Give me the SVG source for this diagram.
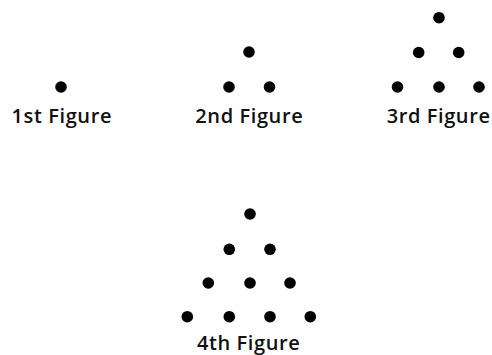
<svg xmlns="http://www.w3.org/2000/svg" width="492" height="355" viewBox="0 0 492 355">
<style>
.d{fill:#000}
.t{font-family:"Open Sans","Liberation Sans",sans-serif;font-weight:600;font-size:20px;letter-spacing:0.6px;fill:#111;text-anchor:middle}
</style>
<rect width="492" height="355" fill="#fff"/>
<g id="fig1">
<circle class="d" cx="61" cy="87" r="5.8"/>
<text class="t" x="61.8" y="122.5">1st Figure</text>
</g>
<g id="fig2">
<circle class="d" cx="249" cy="52" r="5.8"/>
<circle class="d" cx="229" cy="87" r="5.8"/>
<circle class="d" cx="269.5" cy="87" r="5.8"/>
<text class="t" x="249.3" y="122.5">2nd Figure</text>
</g>
<g id="fig3">
<circle class="d" cx="439" cy="17.7" r="5.8"/>
<circle class="d" cx="418.7" cy="52.5" r="5.8"/>
<circle class="d" cx="458.7" cy="52.5" r="5.8"/>
<circle class="d" cx="397.5" cy="87" r="5.8"/>
<circle class="d" cx="439" cy="87" r="5.8"/>
<circle class="d" cx="479" cy="87" r="5.8"/>
<text class="t" x="438.6" y="122.5">3rd Figure</text>
</g>
<g id="fig4">
<circle class="d" cx="250" cy="214" r="5.8"/>
<circle class="d" cx="229.3" cy="249.3" r="5.8"/>
<circle class="d" cx="270" cy="249.3" r="5.8"/>
<circle class="d" cx="208.3" cy="283" r="5.8"/>
<circle class="d" cx="250" cy="283" r="5.8"/>
<circle class="d" cx="290" cy="283" r="5.8"/>
<circle class="d" cx="187.3" cy="316.7" r="5.8"/>
<circle class="d" cx="229.3" cy="316.7" r="5.8"/>
<circle class="d" cx="270" cy="316.7" r="5.8"/>
<circle class="d" cx="310.3" cy="316.7" r="5.8"/>
<text class="t" x="248.6" y="350">4th Figure</text>
</g>
</svg>
